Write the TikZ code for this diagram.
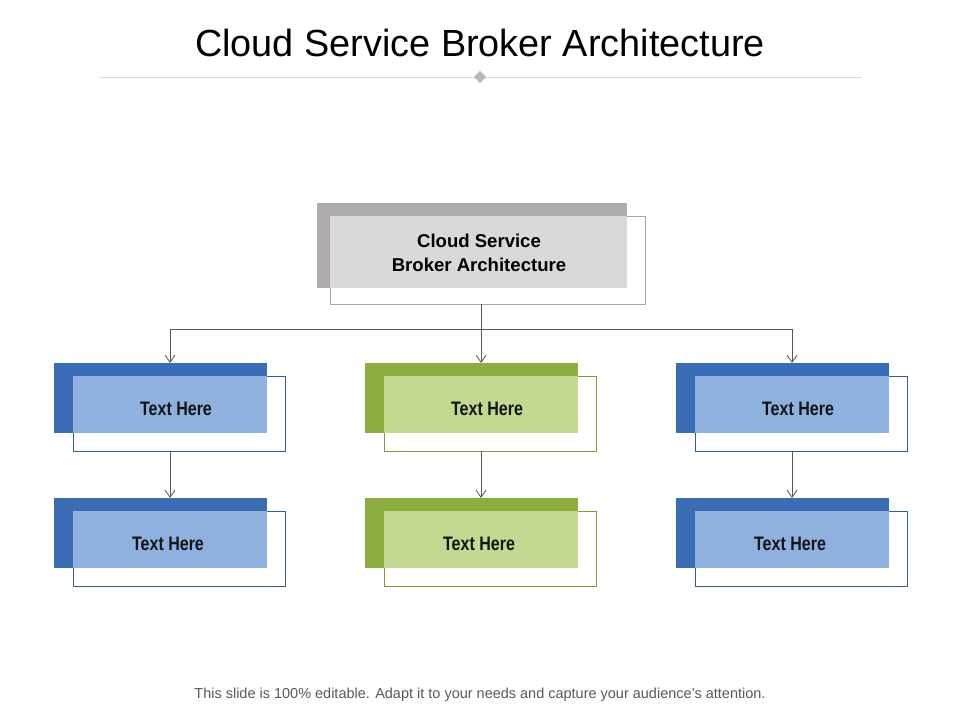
\documentclass[tikz,border=0pt]{standalone}
\usepackage{fontspec}
\setmainfont{Liberation Sans}
\newfontfamily\narrowfont[FakeStretch=0.82]{Liberation Sans}
\usetikzlibrary{arrows.meta}

\definecolor{bluedark}{HTML}{3A6DB5}
\definecolor{bluelight}{HTML}{8EB1DF}
\definecolor{blueline}{HTML}{2F5D95}
\definecolor{greendark}{HTML}{8BAE3F}
\definecolor{greenlight}{HTML}{C3D991}
\definecolor{greenline}{HTML}{7A9A35}
\definecolor{topback}{HTML}{AFABAB}
\definecolor{topfront}{HTML}{D9D9D9}
\definecolor{topline}{HTML}{A6A6A6}
\definecolor{rulegray}{HTML}{D9D9D9}
\definecolor{footgray}{HTML}{595959}

\begin{document}
\begin{tikzpicture}[x=0.025cm, y=-0.025cm,
   box/.style={anchor=north west, inner sep=0, outer sep=0},
   link/.style={draw=black!65, line width=0.6pt},
   arr/.style={link, -{Straight Barb[length=5pt, width=7pt]}}]
   %
   \useasboundingbox (0,0) rectangle (960,720);
   %
   \node[font=\fontsize{26.9}{30}\selectfont] (title) at (480,43)
        {Cloud Service Broker Architecture};
   \draw[rulegray, line width=0.7pt] (100,77) -- (862,77);
   \fill[rulegray!85!black] (480,71) -- (486,77) -- (480,83) -- (474,77) -- cycle;
   %
   \node[box, draw=topline, line width=0.6pt, minimum width=7.875cm, minimum height=2.2cm]
        (topout) at (330,216) {};
   \node[box, fill=topback, minimum width=7.75cm, minimum height=2.125cm]
        (topback) at (317,203) {};
   \node[box, fill=topfront, minimum width=7.425cm, minimum height=1.8cm]
        (topfront) at (330,216) {};
   \node[align=center, font=\fontsize{13.2}{17}\selectfont\bfseries] (toptext) at (479,253)
        {Cloud Service\\Broker Architecture};
   %
   \foreach \c/\dx/\dk/\lt/\ln in {1/0/bluedark/bluelight/blueline,
                                  2/311/greendark/greenlight/greenline,
                                  3/622/bluedark/bluelight/blueline}
     \foreach \r/\dy/\tx in {1/0/6, 2/135/-2}
     {
       \node[box, draw=\ln, line width=0.6pt, minimum width=5.3cm, minimum height=1.875cm]
            (o-\r-\c) at (73+\dx, 376+\dy) {};
       \node[box, fill=\dk, minimum width=5.325cm, minimum height=1.75cm]
            (b-\r-\c) at (54+\dx, 363+\dy) {};
       \node[box, fill=\lt, minimum width=4.85cm, minimum height=1.425cm]
            (f-\r-\c) at (73+\dx, 376+\dy) {};
       \node[font=\fontsize{13.9}{16}\selectfont\narrowfont\bfseries, text=black!92]
            (t-\r-\c) at (170+\dx+\tx, 409+\dy) {Text Here};
     }
   %
   \coordinate (bus) at (481,329);
   \draw[link] (bus |- topout.south) -- (bus);
   \draw[link] (f-1-1.north |- bus) -- (f-1-3.north |- bus);
   \foreach \c in {1,2,3}
   {
     \draw[arr] (f-1-\c.north |- bus) -- (f-1-\c.north |- b-1-\c.north);
     \draw[arr] (f-1-\c.south |- o-1-\c.south) -- (f-1-\c.south |- b-2-\c.north);
   }
   %
   \node[font=\fontsize{10.3}{12}\selectfont, text=footgray] (foot) at (480,695)
        {This slide is 100\% editable. Adapt it to your needs and capture your audience's attention.};
   %
\end{tikzpicture}
\end{document}
